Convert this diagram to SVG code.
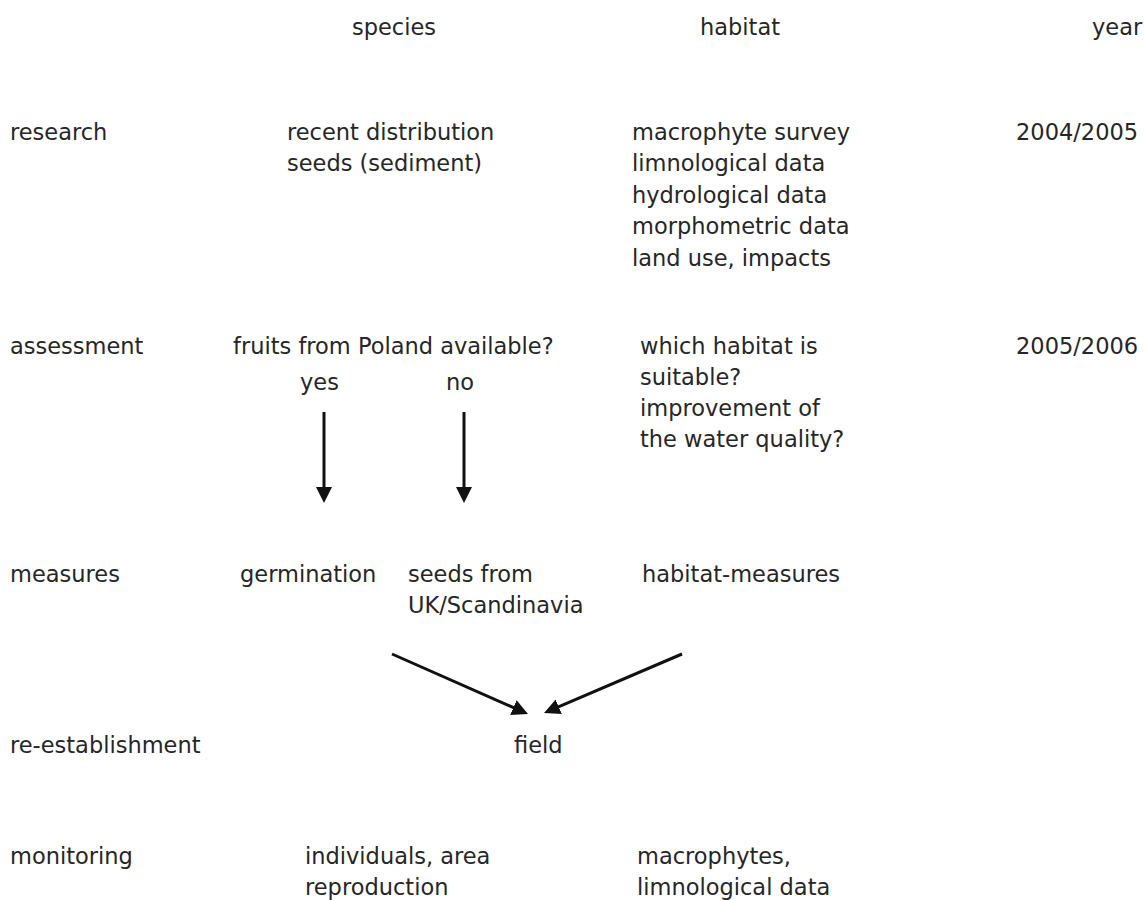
<svg xmlns="http://www.w3.org/2000/svg" width="1144" height="900" viewBox="0 0 1144 900">
<style>
text{font-family:"DejaVu Sans","Liberation Sans",sans-serif;font-size:22.5px;fill:#262626}
.conn{stroke:#111;stroke-width:3;fill:none;marker-end:url(#ah)}
</style>
<defs>
<marker id="ah" markerUnits="userSpaceOnUse" markerWidth="16" markerHeight="16" refX="8" refY="8" orient="auto" viewBox="0 0 16 16">
<path d="M0,0 L16,8 L0,16 z" fill="#111"/>
</marker>
</defs>
<rect width="1144" height="900" fill="#fff"/>
<g id="headers">
<text x="352" y="35">species</text>
<text x="700" y="35">habitat</text>
<text x="1092" y="35">year</text>
</g>
<g id="row-labels">
<text x="10" y="140">research</text>
<text x="10" y="354">assessment</text>
<text x="10" y="582">measures</text>
<text x="10" y="753">re-establishment</text>
<text x="10" y="864">monitoring</text>
</g>
<g id="research-species">
<text x="287" y="140">recent distribution</text>
<text x="287" y="171">seeds (sediment)</text>
</g>
<g id="research-habitat">
<text x="632" y="140">macrophyte survey</text>
<text x="632" y="171">limnological data</text>
<text x="632" y="203">hydrological data</text>
<text x="632" y="234">morphometric data</text>
<text x="632" y="266">land use, impacts</text>
</g>
<g id="year-2004"><text x="1016" y="140">2004/2005</text></g>
<g id="assessment-species"><text x="233" y="354">fruits from Poland available?</text></g>
<g id="yes"><text x="300" y="390">yes</text></g>
<g id="no"><text x="446" y="390">no</text></g>
<g id="assessment-habitat">
<text x="640" y="354">which habitat is</text>
<text x="640" y="385">suitable?</text>
<text x="640" y="416">improvement of</text>
<text x="640" y="447">the water quality?</text>
</g>
<g id="year-2005"><text x="1016" y="354">2005/2006</text></g>
<g id="germination"><text x="240" y="582">germination</text></g>
<g id="seeds-from">
<text x="408" y="582">seeds from</text>
<text x="408" y="613">UK/Scandinavia</text>
</g>
<g id="habitat-measures"><text x="642" y="582">habitat-measures</text></g>
<g id="field"><text x="514" y="753">field</text></g>
<g id="monitoring-species">
<text x="305" y="864">individuals, area</text>
<text x="305" y="895">reproduction</text>
</g>
<g id="monitoring-habitat">
<text x="637" y="864">macrophytes,</text>
<text x="637" y="895">limnological data</text>
</g>
<g id="connectors">
<line class="conn" x1="324" y1="412" x2="324" y2="495"/>
<line class="conn" x1="464" y1="412" x2="464" y2="495"/>
<line class="conn" x1="392" y1="654" x2="520.7" y2="710.8"/>
<line class="conn" x1="682" y1="654" x2="551.4" y2="709.9"/>
</g>
</svg>
